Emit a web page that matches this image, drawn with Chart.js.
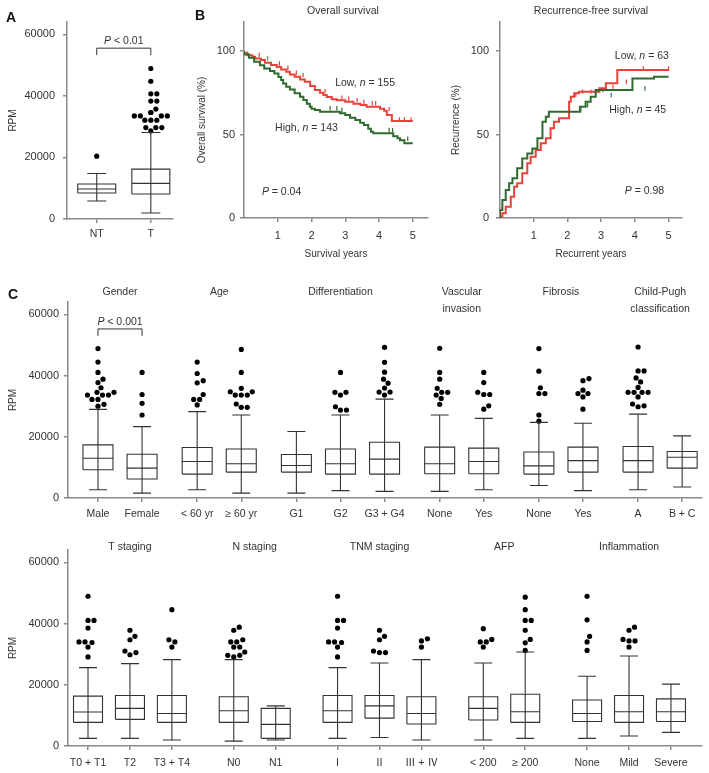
<!DOCTYPE html>
<html>
<head>
<meta charset="utf-8">
<title>RPM expression, survival and clinical features</title>
<script src="https://cdn.jsdelivr.net/npm/chart.js@4.4.1/dist/chart.umd.min.js"></script>
<style>
  body { margin: 0; background: #fff; }
  #fig { position: relative; width: 709px; height: 773px; overflow: hidden; background: #fff; }
  #fig canvas { position: absolute; }
  .tag { position: absolute; font: bold 14px 'Liberation Sans', Arial, sans-serif; color: #111; line-height: 14px; }
</style>
</head>
<body>
<div id="fig">
  <canvas id="panelA"  width="180" height="260" style="left:0;top:0"></canvas>
  <canvas id="panelOS" width="270" height="262" style="left:180px;top:0"></canvas>
  <canvas id="panelRF" width="259" height="262" style="left:450px;top:0"></canvas>
  <canvas id="panelC1" width="709" height="262" style="left:0;top:262px"></canvas>
  <canvas id="panelC2" width="709" height="249" style="left:0;top:524px"></canvas>
  <div class="tag" style="left:6px;top:10px">A</div>
  <div class="tag" style="left:195px;top:8px">B</div>
  <div class="tag" style="left:8px;top:287px">C</div>
</div>
<script>
// ---------------------------------------------
// data
// ---------------------------------------------

// A: tumour vs non-tumour
const aCats     = ['NT', 'T'];
const aLow      = [5840, 1950];
const aQ1       = [8430, 8100];
const aMedian   = [9730, 11570];
const aQ3       = [11350, 16200];
const aHigh     = [14800, 28100];
const aOutliers = [
  [20400],
  [48900, 44750, 40650, 40650, 38300, 38300, 35700, 34600, 34600, 33500, 33500, 33500, 33500,
   32100, 32100, 32100, 29700, 29700, 29700, 28600]
];

// B: Kaplan-Meier, overall survival (%)
const osLowTime  = [0, 0.1, 0.25, 0.33, 0.5, 0.62, 0.8, 0.97, 1.1, 1.25, 1.36, 1.5, 1.66, 1.8, 1.96, 2.1,
                    2.25, 2.35, 2.45, 2.6, 2.75, 3.0, 3.24, 3.45, 3.63, 4.03, 4.15, 4.23, 4.38, 4.47, 5.0];
const osLowPct   = [100, 99, 97.5, 96.6, 95.5, 94.6, 93, 91.6, 90.5, 89, 87.6, 86, 84.6, 83, 81.6, 79,
                    76.6, 75, 73.7, 72.5, 71.1, 70.5, 69.6, 68.5, 67.7, 66.6, 65.5, 64.2, 61.7, 58.1, 58.1];
const osHighTime = [0, 0.15, 0.3, 0.47, 0.6, 0.77, 0.9, 1.02, 1.1, 1.16, 1.25, 1.36, 1.5, 1.66, 1.76, 1.86,
                    1.95, 2.0, 2.1, 2.25, 2.84, 3.0, 3.14, 3.3, 3.44, 3.55, 3.68, 3.76, 3.83, 4.42, 4.55,
                    4.62, 4.75, 4.92, 5.0];
const osHighPct  = [100, 98, 96, 93.6, 91.5, 89.6, 88, 86.6, 84.5, 82.6, 80.5, 78.6, 77, 74.7, 72.7, 70.7,
                    68.5, 66.6, 65.5, 64.7, 63.7, 62.7, 61.7, 60, 58.7, 57, 55.7, 53.5, 51.7, 50.7, 49,
                    47.7, 46.5, 44.7, 44.7];
const osLowCensor  = [0.45, 0.7, 1.05, 1.3, 1.55, 1.75, 2.4, 2.9, 3.1, 3.35, 3.55, 3.8, 3.9, 4.3, 4.6, 4.75, 4.95];
const osHighCensor = [2.55, 2.75, 2.9, 4.3, 4.4, 4.85];

// B: Kaplan-Meier, recurrence (%)
const rfLowTime  = [0, 0.07, 0.17, 0.32, 0.42, 0.51, 0.66, 0.81, 0.91, 1.06, 1.21, 1.36, 1.5, 1.6, 1.75,
                    2.05, 2.1, 2.2, 2.34, 2.95, 3.14, 3.48, 3.98, 5.02];
const rfLowPct   = [0, 0.8, 2.8, 6.8, 12.8, 18.7, 20.8, 26.8, 32.8, 36.7, 40.7, 44.7, 47.7, 53.7, 57.7,
                    59.7, 69.6, 72.6, 74.7, 75.6, 77.7, 80.7, 88.6, 88.6];
const rfHighTime = [0, 0.07, 0.17, 0.27, 0.37, 0.51, 0.66, 0.81, 0.96, 1.11, 1.26, 1.36, 1.45, 2.37, 2.54,
                    2.69, 2.84, 3.93, 4.57, 5.0];
const rfHighPct  = [0, 4.8, 10.8, 16.8, 20.8, 23.8, 29.8, 35.7, 38.7, 41.7, 47.7, 57.7, 60.7, 63.7, 66.6,
                    69.6, 72.6, 76.6, 83.6, 84.6];
const rfLowCensor  = [2.25, 2.45, 2.7, 3.05, 3.35, 3.75, 4.25, 5.0];
const rfHighCensor = [2.4, 2.6, 3.3, 4.3];

// C, upper row
const c1Groups    = [['Gender'], ['Age'], ['Differentiation'], ['Vascular', 'invasion'], ['Fibrosis'],
                     ['Child-Pugh', 'classification']];
const c1GroupSize = [2, 2, 3, 2, 2, 2];
const c1Cats   = ['Male', 'Female', '< 60 yr', '≥ 60 yr', 'G1', 'G2', 'G3 + G4', 'None', 'Yes', 'None', 'Yes', 'A', 'B + C'];
const c1Low    = [2700, 1600, 2700, 1600, 1600, 2400, 2170, 2170, 2700, 4100, 2400, 2700, 3600];
const c1Q1     = [9210, 6200, 7800, 8450, 8450, 7800, 7800, 7900, 7900, 7800, 8450, 8450, 9750];
const c1Median = [13000, 9760, 11900, 11200, 10600, 11200, 12700, 11200, 11900, 10500, 12200, 12200, 13300];
const c1Q3     = [17340, 14300, 16500, 16000, 14200, 16000, 18200, 16600, 16300, 15000, 16600, 16800, 15200];
const c1High   = [28940, 23300, 28200, 27100, 21700, 27100, 32300, 27100, 26000, 24700, 24400, 27400, 20300];
const c1Outliers = [
  [48800, 44400, 41000, 38800, 37700, 36000, 34500, 34500, 33600, 33600, 33600, 32200, 32200, 30600, 30000],
  [41000, 33800, 30900, 27100],
  [44400, 40650, 38300, 37600, 33800, 32200, 32200, 30400],
  [48500, 41000, 35800, 34700, 34700, 33600, 33600, 33600, 30700, 29600, 29600],
  [],
  [41000, 34500, 34500, 33600, 29800, 28700, 28700],
  [49200, 44300, 41100, 38800, 37500, 35900, 34600, 34600, 33600],
  [48900, 41000, 38800, 35800, 34500, 34500, 33600, 32500, 30600],
  [41000, 37700, 34500, 33800, 33800, 30100, 29000],
  [48800, 41400, 36000, 34100, 34100, 27100, 25100],
  [39000, 38300, 35200, 34100, 34100, 33000, 29000],
  [49300, 41500, 41500, 39200, 37900, 36100, 34500, 34500, 34500, 34500, 33000, 30700, 30100, 29800],
  []
];

// C, lower row
const c2Groups    = [['T staging'], ['N staging'], ['TNM staging'], ['AFP'], ['Inflammation']];
const c2GroupSize = [3, 2, 3, 2, 3];
const c2Cats   = ['T0 + T1', 'T2', 'T3 + T4', 'N0', 'N1', 'Ⅰ', 'Ⅱ', 'Ⅲ + Ⅳ', '< 200', '≥ 200', 'None', 'Mild', 'Severe'];
const c2Low    = [2500, 2500, 1950, 1600, 1950, 2500, 2800, 1950, 1950, 2500, 2500, 3250, 4450];
const c2Q1     = [7700, 8700, 7700, 7700, 2500, 7700, 9100, 7200, 8500, 7700, 8000, 7700, 8000];
const c2Median = [11100, 12300, 10600, 11500, 7050, 11500, 13100, 10600, 12300, 11200, 10600, 11200, 11200];
const c2Q3     = [16300, 16500, 16500, 16100, 12300, 16500, 16500, 16100, 16100, 16900, 15000, 16500, 15400];
const c2High   = [25600, 26900, 28200, 28200, 13100, 25600, 27100, 28200, 27100, 30700, 22800, 29400, 20200];
const c2Outliers = [
  [48900, 41000, 41000, 38500, 34000, 34000, 33800, 32300, 29100],
  [37800, 35800, 34700, 31000, 30500, 29800],
  [44500, 34700, 34000, 32300],
  [38800, 37800, 34700, 34000, 34000, 32300, 32300, 30700, 29600, 29600, 29100],
  [],
  [48900, 41000, 41000, 38500, 34000, 34000, 33800, 32300, 29100],
  [37800, 35800, 34700, 31000, 30500, 30500],
  [35000, 34300, 32300],
  [38300, 34800, 34000, 34000, 32300],
  [48600, 44500, 41000, 41000, 37800, 34800, 33700, 31200],
  [48900, 41200, 35800, 34000, 31200],
  [38800, 37800, 34800, 34300, 34300, 32300],
  []
];

const rpmTicks = [0, 20000, 40000, 60000];
const pctTicks = [0, 50, 100];
const yearTicks = [1, 2, 3, 4, 5];

// ---------------------------------------------
// look
// ---------------------------------------------
const FAMILY    = "'Liberation Sans', Arial, 'Noto Sans CJK SC', sans-serif";
const AXIS_GREY = '#8a8a8a';
const INK       = '#333';
const BOX_INK   = '#333';
const RED       = '#e8423a';
const GREEN     = '#2f6a2e';
const DOT_R     = 2.6;
const RPM_MAX   = 64000;

Chart.defaults.font.family = FAMILY;
Chart.defaults.font.size = 10;
Chart.defaults.color = INK;

// ---------------------------------------------
// helpers
// ---------------------------------------------
function stepAt(times, vals, t) {
  let v = vals[0];
  for (let i = 0; i < times.length; i++) if (times[i] <= t) v = vals[i];
  return v;
}

function catPositions(groupSizes, gap) {
  const xs = [];
  let pos = 0;
  groupSizes.forEach(n => {
    for (let i = 0; i < n; i++) { xs.push(pos); pos += 1; }
    pos += gap;
  });
  return xs;
}

function groupCentres(groupSizes, xs) {
  const out = [];
  let k = 0;
  groupSizes.forEach(n => {
    let s = 0;
    for (let i = 0; i < n; i++) s += xs[k + i];
    out.push(s / n);
    k += n;
  });
  return out;
}

// beeswarm: offsets in x units so that dots don't overlap
function swarm(vals, pxX, pxY) {
  const placed = [];
  const dmin = 2 * DOT_R + 0.8;
  const sorted = [...vals].sort((a, b) => a - b);
  return sorted.map(v => {
    const py = v * pxY;
    let off = 0;
    for (let k = 0; k < 80; k++) {
      const cand = (k % 2 ? 1 : -1) * Math.ceil(k / 2) * 0.5;
      const hit = placed.some(p => (p.px - cand) ** 2 + (p.py - py) ** 2 < dmin * dmin);
      if (!hit) { off = cand; break; }
    }
    placed.push({ px: off, py });
    return { dx: off / pxX, v };
  });
}

function drawParts(ctx, parts, x, y, align) {
  const fonts = parts.map(p => (p[1] ? 'italic ' : '') + '10.5px ' + FAMILY);
  let w = 0;
  parts.forEach((p, i) => { ctx.font = fonts[i]; w += ctx.measureText(p[0]).width; });
  let cx = align === 'left' ? x : align === 'right' ? x - w : x - w / 2;
  ctx.textAlign = 'left';
  ctx.textBaseline = 'middle';
  ctx.fillStyle = INK;
  parts.forEach((p, i) => {
    ctx.font = fonts[i];
    ctx.fillText(p[0], cx, y);
    cx += ctx.measureText(p[0]).width;
  });
}

// titles, labels and brackets placed through the chart scales
function notes(items) {
  return {
    id: 'notes',
    afterDraw(chart) {
      const { ctx, chartArea } = chart;
      const sx = chart.scales.x, sy = chart.scales.y;
      items.forEach(it => {
        ctx.save();
        const py = (it.y !== undefined ? sy.getPixelForValue(it.y) : chartArea.top) + (it.off || 0);
        if (it.bracket) {
          const x1 = sx.getPixelForValue(it.bracket[0]);
          const x2 = sx.getPixelForValue(it.bracket[1]);
          ctx.strokeStyle = BOX_INK;
          ctx.lineWidth = 1;
          ctx.beginPath();
          ctx.moveTo(x1, py + it.drop);
          ctx.lineTo(x1, py);
          ctx.lineTo(x2, py);
          ctx.lineTo(x2, py + it.drop);
          ctx.stroke();
        } else {
          drawParts(ctx, it.parts, sx.getPixelForValue(it.x), py, it.align || 'center');
        }
        ctx.restore();
      });
    }
  };
}

function yAxis(o) {
  return {
    type: 'linear', min: o.min, max: o.max,
    afterFit: s => { s.width = o.width; },
    afterBuildTicks: s => { s.ticks = o.ticks.map(v => ({ value: v })); },
    ticks: { padding: o.pad, font: { size: 11 }, callback: v => String(v) },
    grid: { drawOnChartArea: false, tickLength: 4, color: AXIS_GREY, lineWidth: 1.5 },
    border: { color: AXIS_GREY, width: 1.5 },
    title: { display: true, text: o.title, padding: { top: o.titlePad, bottom: 0 } }
  };
}

function xAxis(o) {
  return {
    type: 'linear', min: o.min, max: o.max,
    afterFit: s => { s.height = o.height; },
    afterBuildTicks: s => { s.ticks = o.ticks.map(v => ({ value: v })); },
    ticks: { padding: o.pad, autoSkip: false, maxRotation: 0, minRotation: 0,
             font: { size: o.labels ? 10.5 : 11 },
             callback: (v, i) => o.labels ? o.labels[i] : String(v) },
    grid: { drawOnChartArea: false, tickLength: 4, color: AXIS_GREY, lineWidth: 1.5 },
    border: { color: AXIS_GREY, width: 1.5 },
    title: o.title ? { display: true, text: o.title, padding: { top: 0, bottom: 2 } } : { display: false }
  };
}

function baseOptions(padding, scales) {
  return {
    responsive: false,
    animation: false,
    events: [],
    layout: { padding },
    plugins: { legend: { display: false }, tooltip: { enabled: false } },
    scales
  };
}

// box-and-whisker panel: box, median, whiskers and caps as one line dataset, outliers as points
function boxPanel(canvasId, d, L, items) {
  const pxX = L.plotW / (L.xMax - L.xMin);
  const pxY = L.plotH / RPM_MAX;
  const hw = L.boxPx / 2 / pxX;
  const cw = L.capPx / 2 / pxX;

  const frame = [];
  const gap = x => ({ x, y: null });
  d.xs.forEach((x, i) => {
    frame.push({ x: x - hw, y: d.q1[i] }, { x: x + hw, y: d.q1[i] }, { x: x + hw, y: d.q3[i] },
               { x: x - hw, y: d.q3[i] }, { x: x - hw, y: d.q1[i] }, gap(x));
    frame.push({ x: x - hw, y: d.med[i] }, { x: x + hw, y: d.med[i] }, gap(x));
    frame.push({ x, y: d.low[i] }, { x, y: d.high[i] }, gap(x));
    frame.push({ x: x - cw, y: d.low[i] }, { x: x + cw, y: d.low[i] }, gap(x));
    frame.push({ x: x - cw, y: d.high[i] }, { x: x + cw, y: d.high[i] }, gap(x));
  });

  const dots = [];
  d.xs.forEach((x, i) => {
    swarm(d.out[i], pxX, pxY).forEach(p => dots.push({ x: x + p.dx, y: p.v }));
  });

  return new Chart(document.getElementById(canvasId), {
    type: 'line',
    data: {
      datasets: [
        { data: frame, borderColor: BOX_INK, borderWidth: 1.1, pointRadius: 0, tension: 0, spanGaps: false },
        { data: dots, showLine: false, pointRadius: DOT_R, pointBackgroundColor: '#000',
          pointBorderColor: '#000', pointBorderWidth: 0 }
      ]
    },
    options: baseOptions(L.padding, {
      x: xAxis({ min: L.xMin, max: L.xMax, height: L.xHeight, ticks: d.xs, labels: d.cats, pad: L.xPad }),
      y: yAxis({ min: 0, max: RPM_MAX, width: L.yWidth, ticks: rpmTicks, pad: L.yPad,
                 title: 'RPM', titlePad: 7 })
    }),
    plugins: [notes(items)]
  });
}

function kmLine(times, vals, color) {
  return { data: times.map((t, i) => ({ x: t, y: vals[i] })), stepped: 'after', borderColor: color,
           borderWidth: 2, pointRadius: 0, fill: false };
}

function kmCensor(marks, times, vals, color) {
  return { data: marks.map(t => ({ x: t, y: stepAt(times, vals, t) + 1 })), showLine: false,
           pointStyle: 'line', pointRotation: 90, pointRadius: 2.2,
           pointBorderColor: color, pointBorderWidth: 1.2 };
}

function kmPanel(canvasId, series, L, items) {
  return new Chart(document.getElementById(canvasId), {
    type: 'line',
    data: { datasets: series },
    options: baseOptions(L.padding, {
      x: xAxis({ min: 0, max: L.xMax, height: 44, ticks: yearTicks, pad: 7, title: L.xTitle }),
      y: yAxis({ min: 0, max: 117.4, width: L.yWidth, ticks: pctTicks, pad: L.yPad,
                 title: L.yTitle, titlePad: L.titlePad })
    }),
    plugins: [notes(items)]
  });
}

// ---------------------------------------------
// A
// ---------------------------------------------
boxPanel('panelA',
  { cats: aCats, low: aLow, q1: aQ1, med: aMedian, q3: aQ3, high: aHigh, out: aOutliers, xs: [0, 1] },
  { padding: { left: 0, top: 22, right: 7, bottom: 0 }, yWidth: 67, xHeight: 41,
    plotW: 106, plotH: 197, xMin: -0.55, xMax: 1.41, boxPx: 38, capPx: 19, xPad: 5, yPad: 8 },
  [
    { bracket: [0, 1], y: 55500, drop: 7 },
    { parts: [['P', 1], [' < 0.01']], x: 0.5, y: 55500, off: -7 }
  ]);

// ---------------------------------------------
// B
// ---------------------------------------------
kmPanel('panelOS', [
    kmLine(osHighTime, osHighPct, GREEN),
    kmCensor(osHighCensor, osHighTime, osHighPct, GREEN),
    kmLine(osLowTime, osLowPct, RED),
    kmCensor(osLowCensor, osLowTime, osLowPct, RED)
  ],
  { padding: { left: 0, top: 22, right: 22, bottom: 0 }, yWidth: 64, yPad: 5, xMax: 5.45,
    xTitle: 'Survival years', yTitle: 'Overall survival (%)', titlePad: 16 },
  [
    { parts: [['Overall survival']], x: 2.93, off: -11 },
    { parts: [['Low, '], ['n', 1], [' = 155']], x: 2.7, y: 80.8, align: 'left' },
    { parts: [['High, '], ['n', 1], [' = 143']], x: 0.92, y: 53.9, align: 'left' },
    { parts: [['P', 1], [' = 0.04']], x: 0.53, y: 15.6, align: 'left' }
  ]);

kmPanel('panelRF', [
    kmLine(rfHighTime, rfHighPct, GREEN),
    kmCensor(rfHighCensor, rfHighTime, rfHighPct, GREEN),
    kmLine(rfLowTime, rfLowPct, RED),
    kmCensor(rfLowCensor, rfLowTime, rfLowPct, RED)
  ],
  { padding: { left: 0, top: 22, right: 27, bottom: 0 }, yWidth: 50, yPad: 7, xMax: 5.4,
    xTitle: 'Recurrent years', yTitle: 'Recurrence (%)', titlePad: 0 },
  [
    { parts: [['Recurrence-free survival']], x: 2.7, off: -11 },
    { parts: [['Low, '], ['n', 1], [' = 63']], x: 5.01, y: 97, align: 'right' },
    { parts: [['High, '], ['n', 1], [' = 45']], x: 4.93, y: 64.7, align: 'right' },
    { parts: [['P', 1], [' = 0.98']], x: 4.87, y: 16.2, align: 'right' }
  ]);

// ---------------------------------------------
// C
// ---------------------------------------------
function groupTitles(groups, sizes, xs, firstOff, lineGap) {
  const centres = groupCentres(sizes, xs);
  const items = [];
  groups.forEach((lines, g) => {
    lines.forEach((t, k) => items.push({ parts: [[t]], x: centres[g], off: firstOff + k * lineGap }));
  });
  return items;
}

const c1Xs = catPositions(c1GroupSize, 0.25);
boxPanel('panelC1',
  { cats: c1Cats, low: c1Low, q1: c1Q1, med: c1Median, q3: c1Q3, high: c1High, out: c1Outliers, xs: c1Xs },
  { padding: { left: 0, top: 40, right: 7, bottom: 0 }, yWidth: 68, xHeight: 26,
    plotW: 634, plotH: 196, xMin: -0.68, xMax: 13.70, boxPx: 30, capPx: 18, xPad: 6, yPad: 5 },
  groupTitles(c1Groups, c1GroupSize, c1Xs, -10, 17).concat([
    { bracket: [0, 1], y: 55200, drop: 7 },
    { parts: [['P', 1], [' < 0.001']], x: 0.5, y: 55200, off: -7 }
  ]));

const c2Xs = catPositions(c2GroupSize, 0.475);
boxPanel('panelC2',
  { cats: c2Cats, low: c2Low, q1: c2Q1, med: c2Median, q3: c2Q3, high: c2High, out: c2Outliers, xs: c2Xs },
  { padding: { left: 0, top: 26, right: 7, bottom: 0 }, yWidth: 68, xHeight: 27,
    plotW: 634, plotH: 196, xMin: -0.477, xMax: 14.64, boxPx: 29, capPx: 18, xPad: 7, yPad: 5 },
  groupTitles(c2Groups, c2GroupSize, c2Xs, -3, 17));
</script>
</body>
</html>
